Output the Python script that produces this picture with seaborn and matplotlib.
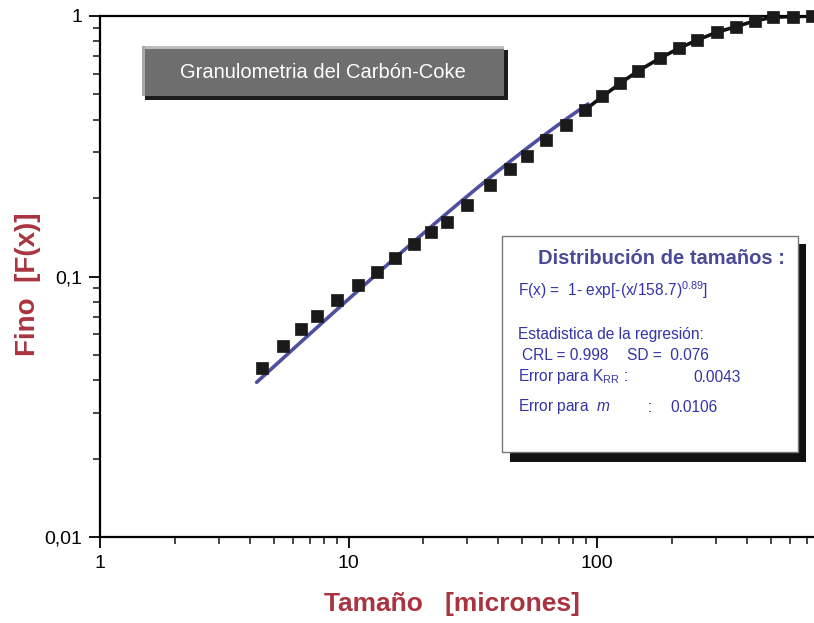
import numpy as np
import pandas as pd
import seaborn as sns
import matplotlib
matplotlib.use("Agg")
import matplotlib.pyplot as plt
from matplotlib import font_manager
from matplotlib.patches import Rectangle
from matplotlib.ticker import LogLocator, NullFormatter

# Sieve analysis of the carbon-coke sample: size (microns) vs. cumulative fines F(x)
size_um = [4.47, 5.46, 6.44, 7.49, 8.97, 10.95, 12.98, 15.38, 18.35, 21.38,
           24.9, 29.9, 37.1, 44.7, 52.1, 62.3, 74.8, 89.5, 105.2, 124.1,
           146.3, 179.4, 213.8, 253.4, 303.4, 362.6, 432.3, 512.0, 612.8, 731.0]
fines = [0.0444, 0.0542, 0.0627, 0.0707, 0.0812, 0.0928, 0.1043, 0.1174, 0.1329, 0.1476,
         0.1626, 0.188, 0.2245, 0.258, 0.290, 0.334, 0.382, 0.436, 0.491, 0.552,
         0.615, 0.689, 0.752, 0.809, 0.866, 0.910, 0.959, 0.989, 0.995, 0.998]

# Rosin-Rammler fit parameters
k_rr = 158.7
m_rr = 0.89
fit_range = [4.27, 92.0]

x_ticks = [1, 10, 100]
x_ticklabels = ["1", "10", "100"]
y_ticks = [0.01, 0.1, 1]
y_ticklabels = ["0,01", "0,1", "1"]

sns.set_style("ticks")
names = {f.name for f in font_manager.fontManager.ttflist}
base_font = "Liberation Sans" if "Liberation Sans" in names else "DejaVu Sans"
narrow_font = "Liberation Sans Narrow" if "Liberation Sans Narrow" in names else base_font
body_size = 12.5 if narrow_font != base_font else 11.2
plt.rcParams["font.family"] = [base_font, "DejaVu Sans"]
plt.rcParams["mathtext.fontset"] = "custom"
plt.rcParams["mathtext.rm"] = narrow_font
plt.rcParams["mathtext.it"] = narrow_font + ":italic"

fig = plt.figure(figsize=(8.14, 6.23), dpi=100)
W, H = 814, 623
ax = fig.add_axes([100 / W, 1 - 537 / H, 1 - 100 / W, (537 - 16) / H])

data = pd.DataFrame({"size": size_um, "fines": fines})
xfit = np.geomspace(fit_range[0], fit_range[1], 200)
fit = pd.DataFrame({"size": xfit, "F": 1 - np.exp(-(xfit / k_rr) ** m_rr)})

# black trace through the coarse-end points
sns.lineplot(data=data.iloc[17:], x="size", y="fines", color="#111111", lw=2.6,
             ax=ax, zorder=2, sort=True, estimator=None)
# fitted Rosin-Rammler curve
sns.lineplot(data=fit, x="size", y="F", color="#4f4fa0", lw=2.6, ax=ax, zorder=3)
sns.scatterplot(data=data, x="size", y="fines", marker="s", s=75, color="#1a1a1a",
                edgecolor="#1a1a1a", linewidth=0.5, ax=ax, zorder=4, clip_on=False)

ax.set_xscale("log")
ax.set_yscale("log")
ax.set_xlim(1, 10 ** ((814 - 100) / 248.5))
ax.set_ylim(0.01, 1)
ax.set_xticks(x_ticks)
ax.set_xticklabels(x_ticklabels)
ax.set_yticks(y_ticks)
ax.set_yticklabels(y_ticklabels)
ax.xaxis.set_minor_locator(LogLocator(base=10, subs=np.arange(2, 10)))
ax.yaxis.set_minor_locator(LogLocator(base=10, subs=np.arange(2, 10)))
ax.xaxis.set_minor_formatter(NullFormatter())
ax.yaxis.set_minor_formatter(NullFormatter())
ax.tick_params(which="major", direction="out", length=8, width=1.3, labelsize=14,
               colors="black", pad=5)
ax.tick_params(which="minor", direction="out", length=5, width=1.2)
for side in ["left", "bottom", "top"]:
    ax.spines[side].set_visible(True)
    ax.spines[side].set_linewidth(1.6)
    ax.spines[side].set_color("black")
ax.spines["right"].set_visible(False)
ax.set_xlabel("")
ax.set_ylabel("")

label_color = "#a8343f"
fig.text(452 / W, 1 - 604 / H, "Tamaño   [micrones]", ha="center", va="center",
         fontsize=19, fontweight="bold", color=label_color)
fig.text(28 / W, 1 - 284 / H, "Fino  [F(x)]", ha="center", va="center", rotation=90,
         fontsize=20, fontweight="bold", color=label_color)


def px_rect(x0, y0, x1, y1, **kw):
    return Rectangle((x0 / W, 1 - y1 / H), (x1 - x0) / W, (y1 - y0) / H,
                     transform=fig.transFigure, **kw)


# title plate with bevel
fig.patches.append(px_rect(145, 50, 508, 100, facecolor="#1c1c1c", edgecolor="none", zorder=5))
fig.patches.append(px_rect(142, 46, 504, 96, facecolor="#6e6e6e", edgecolor="none", zorder=6))
fig.patches.append(px_rect(142, 46, 504, 49, facecolor="#bdbdbd", edgecolor="none", zorder=7))
fig.patches.append(px_rect(142, 46, 145, 96, facecolor="#a8a8a8", edgecolor="none", zorder=7))
fig.text(323 / W, 1 - 72 / H, "Granulometria del Carbón-Coke", ha="center", va="center",
         fontsize=14.5, color="white", zorder=8)

# statistics box with drop shadow
fig.patches.append(px_rect(510, 244, 806, 462, facecolor="#111111", edgecolor="none", zorder=5))
fig.patches.append(px_rect(502, 236, 798, 452, facecolor="white", edgecolor="#777777",
                           linewidth=1.0, zorder=6))

head_color = "#4a4a96"
body_color = "#3434a8"
fig.text(661 / W, 1 - 259 / H, "Distribución de tamaños :", ha="center", va="center",
         fontsize=14.5, fontweight="bold", color=head_color, zorder=8)
body = dict(ha="left", va="center", fontsize=body_size, color=body_color,
            family=narrow_font, zorder=8)
fig.text(518 / W, 1 - 290 / H, r"F(x) =  1- exp[-(x/158.7)$^{0.89}$]", **body)
fig.text(518 / W, 1 - 334 / H, "Estadistica de la regresión:", **body)
fig.text(522 / W, 1 - 355 / H, "CRL = 0.998", **body)
fig.text(627 / W, 1 - 355 / H, "SD =  0.076", **body)
fig.text(518 / W, 1 - 377 / H, r"Error para K$_{\rm RR}$ :", **body)
fig.text(693 / W, 1 - 377 / H, "0.0043", **body)
fig.text(518 / W, 1 - 407 / H, r"Error para  $m$", **body)
fig.text(648 / W, 1 - 407 / H, ":", **body)
fig.text(670 / W, 1 - 407 / H, "0.0106", **body)

fig.savefig("out.png", dpi=100)
